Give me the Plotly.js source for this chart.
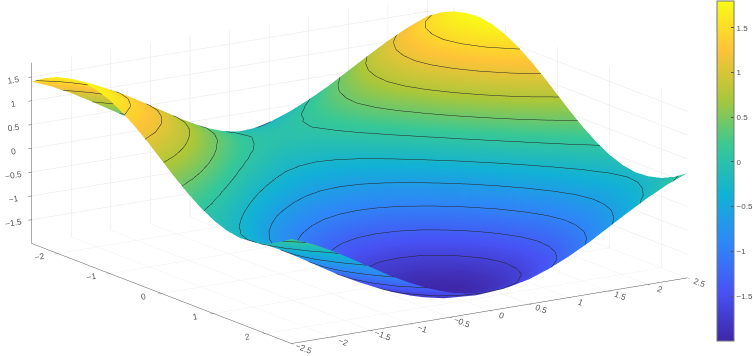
<!DOCTYPE html>
<html><head><meta charset="utf-8">
<script src="https://cdn.plot.ly/plotly-3.0.1.min.js"></script>
<style>html,body{margin:0;padding:0;background:#fff;overflow:hidden}#c{width:753px;height:356px}</style>
</head><body><div id="c"></div>
<script>
const xValues = [-2.5,-2.25,-2,-1.75,-1.5,-1.25,-1,-0.75,-0.5,-0.25,0,0.25,0.5,0.75,1,1.25,1.5,1.75,2,2.25,2.5];
const yValues = [-2.5,-2.25,-2,-1.75,-1.5,-1.25,-1,-0.75,-0.5,-0.25,0,0.25,0.5,0.75,1,1.25,1.5,1.75,2,2.25,2.5];
const zValues = [
[1.40,1.23,1.02,.78,.53,.28,.06,-.13,-.28,-.37,-.40,-.37,-.28,-.13,.06,.28,.53,.78,1.02,1.23,1.40],
[1.58,1.41,1.20,.96,.71,.46,.24,.05,-.10,-.19,-.22,-.19,-.10,.05,.24,.46,.71,.96,1.20,1.41,1.58],
[1.71,1.54,1.33,1.09,.84,.59,.37,.18,.03,-.06,-.09,-.06,.03,.18,.37,.59,.84,1.09,1.33,1.54,1.71],
[1.78,1.61,1.40,1.16,.91,.66,.44,.25,.10,.01,-.02,.01,.10,.25,.44,.66,.91,1.16,1.40,1.61,1.78],
[1.80,1.63,1.42,1.18,.93,.68,.46,.27,.12,.03,0,.03,.12,.27,.46,.68,.93,1.18,1.42,1.63,1.80],
[1.75,1.58,1.37,1.13,.88,.63,.41,.22,.07,-.02,-.05,-.02,.07,.22,.41,.63,.88,1.13,1.37,1.58,1.75],
[1.64,1.47,1.26,1.02,.77,.52,.30,.11,-.04,-.13,-.16,-.13,-.04,.11,.30,.52,.77,1.02,1.26,1.47,1.64],
[1.48,1.31,1.10,.86,.61,.36,.14,-.05,-.20,-.29,-.32,-.29,-.20,-.05,.14,.36,.61,.86,1.10,1.31,1.48],
[1.28,1.11,.90,.66,.41,.16,-.06,-.25,-.40,-.49,-.52,-.49,-.40,-.25,-.06,.16,.41,.66,.90,1.11,1.28],
[1.05,.88,.67,.43,.18,-.07,-.29,-.48,-.63,-.72,-.75,-.72,-.63,-.48,-.29,-.07,.18,.43,.67,.88,1.05],
[.80,.63,.42,.18,-.07,-.32,-.54,-.73,-.88,-.97,-1,-.97,-.88,-.73,-.54,-.32,-.07,.18,.42,.63,.80],
[.55,.38,.17,-.07,-.32,-.57,-.79,-.98,-1.13,-1.22,-1.25,-1.22,-1.13,-.98,-.79,-.57,-.32,-.07,.17,.38,.55],
[.32,.15,-.06,-.30,-.55,-.80,-1.02,-1.21,-1.36,-1.45,-1.48,-1.45,-1.36,-1.21,-1.02,-.80,-.55,-.30,-.06,.15,.32],
[.12,-.05,-.26,-.50,-.75,-1.00,-1.22,-1.41,-1.56,-1.65,-1.68,-1.65,-1.56,-1.41,-1.22,-1.00,-.75,-.50,-.26,-.05,.12],
[-.04,-.21,-.42,-.66,-.91,-1.16,-1.38,-1.57,-1.72,-1.81,-1.84,-1.81,-1.72,-1.57,-1.38,-1.16,-.91,-.66,-.42,-.21,-.04],
[-.15,-.32,-.53,-.77,-1.02,-1.27,-1.49,-1.68,-1.83,-1.92,-1.95,-1.92,-1.83,-1.68,-1.49,-1.27,-1.02,-.77,-.53,-.32,-.15],
[-.20,-.37,-.58,-.82,-1.07,-1.32,-1.54,-1.73,-1.88,-1.97,-2,-1.97,-1.88,-1.73,-1.54,-1.32,-1.07,-.82,-.58,-.37,-.20],
[-.18,-.35,-.56,-.80,-1.05,-1.30,-1.52,-1.71,-1.86,-1.95,-1.98,-1.95,-1.86,-1.71,-1.52,-1.30,-1.05,-.80,-.56,-.35,-.18],
[-.11,-.28,-.49,-.73,-.98,-1.23,-1.45,-1.64,-1.79,-1.88,-1.91,-1.88,-1.79,-1.64,-1.45,-1.23,-.98,-.73,-.49,-.28,-.11],
[.02,-.15,-.36,-.60,-.85,-1.10,-1.32,-1.51,-1.66,-1.75,-1.78,-1.75,-1.66,-1.51,-1.32,-1.10,-.85,-.60,-.36,-.15,.02],
[.20,.03,-.18,-.42,-.67,-.92,-1.14,-1.33,-1.48,-1.57,-1.60,-1.57,-1.48,-1.33,-1.14,-.92,-.67,-.42,-.18,.03,.20]
];
const xTicks = [-2.5,-2,-1.5,-1,-0.5,0,0.5,1,1.5,2,2.5];
const yTicks = [-2,-1,0,1,2];
const zTicks = [-1.5,-1,-0.5,0,0.5,1,1.5];
const parula = [[0,'rgb(62,38,168)'],[1/7,'rgb(72,82,244)'],[2/7,'rgb(46,135,247)'],[3/7,'rgb(18,177,214)'],[4/7,'rgb(55,200,151)'],[5/7,'rgb(171,199,57)'],[6/7,'rgb(254,195,56)'],[1,'rgb(249,251,21)']];
const axisBase = {showbackground:false, showgrid:true, gridcolor:'#e6e6e6', gridwidth:1, showline:true, linecolor:'#555', linewidth:1,
  ticks:'outside', ticklen:4, tickcolor:'#555', tickfont:{family:'Liberation Sans', size:10, color:'#555'}, title:{text:''}, zeroline:false, showspikes:false, tickmode:'array'};
const data = [{type:'surface', x:xValues, y:yValues, z:zValues, cmin:-2, cmax:1.8, colorscale:parula,
  lighting:{ambient:1,diffuse:0,specular:0,roughness:1,fresnel:0}, hoverinfo:'skip',
  contours:{z:{show:true,start:-1.65,end:1.46,size:0.345,color:'#222',width:1}},
  colorbar:{x:717/753,xanchor:'left',thickness:17,thicknessmode:'pixels',len:340/356,lenmode:'fraction',y:0.52,yanchor:'middle',
    outlinecolor:'#777',outlinewidth:1,ticks:'inside',ticklen:3,tickcolor:'#555',tickmode:'array',tickvals:zTicks,ticktext:zTicks.map(v=>String(v).replace('-','\u2212')),
    tickfont:{family:'Liberation Sans',size:8,color:'#555'},xpad:0,ypad:0}}];
const layout = {width:753,height:356,margin:{l:0,r:0,t:0,b:0,autoexpand:false},paper_bgcolor:'#fff',showlegend:false,
  scene:{domain:{x:[0,0.955],y:[0,1]},
    xaxis:{...axisBase,range:[-2.5,2.5],tickvals:xTicks},
    yaxis:{...axisBase,range:[2.5,-2.5],tickvals:yTicks},
    zaxis:{...axisBase,range:[-2,1.8],tickvals:zTicks},
    aspectmode:'manual',aspectratio:{x:2.66,y:2.66,z:1.05},
    camera:{eye:{x:-1.05,y:-1.6,z:0.455},center:{x:0,y:0,z:-0.045},up:{x:0,y:0,z:1},projection:{type:'orthographic'}}}};
Plotly.newPlot('c',data,layout,{displayModeBar:false});
</script></body></html>
